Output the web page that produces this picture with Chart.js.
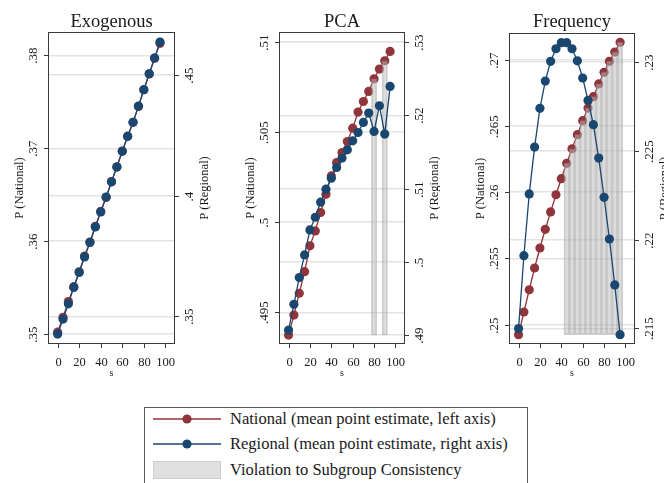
<!DOCTYPE html>
<html>
<head>
<meta charset="utf-8">
<script src="https://cdn.jsdelivr.net/npm/chart.js@4.4.1/dist/chart.umd.min.js"></script>
<style>
  html, body { margin: 0; padding: 0; background: #ffffff; }
  #page { position: relative; width: 664px; height: 483px; overflow: hidden; background: #fff; }
  .panel { position: absolute; top: 0; height: 400px; }
  #legend { position: absolute; left: 144px; top: 407px; width: 384px; height: 100px; border: 1px solid #5a5a5a; box-sizing: border-box; }
  .ltxt { position: absolute; left: 85px; font-family: 'Liberation Serif', 'DejaVu Serif', serif; font-size: 16.5px; color: #1a1a1a; line-height: 20px; white-space: nowrap; }
</style>
</head>
<body>
<div id="page">
  <canvas id="c1" class="panel" style="left:0px" width="220" height="400"></canvas>
  <canvas id="c2" class="panel" style="left:220px" width="220" height="400"></canvas>
  <canvas id="c3" class="panel" style="left:440px" width="224" height="400"></canvas>
  <div id="legend">
    <svg width="84" height="100" style="position:absolute;left:0;top:0">
      <line x1="8" y1="11" x2="76" y2="11" stroke="rgb(144,53,59)" stroke-width="1.5"/>
      <circle cx="42" cy="11" r="4.6" fill="rgb(144,53,59)"/>
      <line x1="8" y1="36" x2="76" y2="36" stroke="rgb(26,71,111)" stroke-width="1.5"/>
      <circle cx="42" cy="36" r="4.6" fill="rgb(26,71,111)"/>
      <rect x="8.5" y="53.5" width="67" height="17" fill="#e0e0e0" stroke="#cdcdcd" stroke-width="1"/>
    </svg>
    <div class="ltxt" id="lt1" style="top:1px"></div>
    <div class="ltxt" id="lt2" style="top:26px"></div>
    <div class="ltxt" id="lt3" style="top:52px"></div>
  </div>
</div>
<script>
// ---------------- DATA ----------------
const s = [0, 5, 10, 15, 20, 25, 30, 35, 40, 45, 50, 55, 60, 65, 70, 75, 80, 85, 90, 95];

const exoNational = [.3502, .3518, .3535, .3551, .3567, .3584, .3599, .3616, .3632, .3647, .3664, .3680, .3697, .3713, .3728, .3745, .3763, .3780, .3797, .3813];
const exoRegional = [.3427, .3489, .3552, .3620, .3682, .3746, .3806, .3870, .3932, .3994, .4057, .4118, .4183, .4245, .4303, .4370, .4438, .4504, .4569, .4635];

const pcaNational = [.49374, .49485, .49606, .49726, .49869, .49952, .50054, .50156, .50257, .50331, .50387, .50448, .50522, .50611, .50670, .50726, .50796, .50850, .50896, .50948];
const pcaRegional = [.49068, .49419, .49784, .50093, .50435, .50608, .50813, .50991, .51141, .51287, .51415, .51528, .51651, .51765, .51902, .52030, .51779, .52130, .51743, .52394];

const freqNational = [.24925, .25096, .25264, .25428, .25579, .25720, .25851, .25981, .26102, .26218, .26328, .26434, .26540, .26635, .26721, .26817, .26905, .26988, .27058, .27131];
const freqRegional = [.21499, .21910, .22258, .22522, .22740, .22894, .23005, .23076, .23110, .23110, .23076, .23008, .22911, .22785, .22648, .22460, .22239, .22004, .21745, .21465];

const exoViolations = [];
const pcaViolations = [80, 90];
const freqViolations = [45, 50, 55, 60, 65, 70, 75, 80, 85, 90, 95];

const xTicks = [0, 20, 40, 60, 80, 100];
const xTickLabels = ['0', '20', '40', '60', '80', '100'];

const exoLeftTicks = [.35, .36, .37, .38];
const exoLeftLabels = ['.35', '.36', '.37', '.38'];
const exoRightTicks = [.35, .4, .45];
const exoRightLabels = ['.35', '.4', '.45'];

const pcaLeftTicks = [.495, .5, .505, .51];
const pcaLeftLabels = ['.495', '.5', '.505', '.51'];
const pcaRightTicks = [.49, .5, .51, .52, .53];
const pcaRightLabels = ['.49', '.5', '.51', '.52', '.53'];

const freqLeftTicks = [.25, .255, .26, .265, .27];
const freqLeftLabels = ['.25', '.255', '.26', '.265', '.27'];
const freqRightTicks = [.215, .22, .225, .23];
const freqRightLabels = ['.215', '.22', '.225', '.23'];

const panelTitles = ['Exogenous', 'PCA', 'Frequency'];
const leftTitle = 'P (National)';
const rightTitle = 'P (Regional)';
const xTitle = 's';
const legendLabels = [
  'National (mean point estimate, left axis)',
  'Regional (mean point estimate, right axis)',
  'Violation to Subgroup Consistency'
];

// ---------------- STYLE ----------------
const RED = 'rgb(144,53,59)';
const BLUE = 'rgb(26,71,111)';
const SERIF = "'Liberation Serif', 'DejaVu Serif', serif";
const TXT = '#1a1a1a';

document.getElementById('lt1').textContent = legendLabels[0];
document.getElementById('lt2').textContent = legendLabels[1];
document.getElementById('lt3').textContent = legendLabels[2];

const stataAxes = {
  id: 'stataAxes',
  afterDraw(chart, args, o) {
    const { ctx, chartArea: a, scales } = chart;
    ctx.save();
    // plot region box
    ctx.strokeStyle = '#3a3a3a';
    ctx.lineWidth = 1;
    ctx.strokeRect(a.left - 0.5, a.top - 0.5, a.right - a.left + 1, a.bottom - a.top + 1);

    ctx.fillStyle = TXT;
    ctx.strokeStyle = '#3a3a3a';
    // left axis
    ctx.font = '13px ' + SERIF;
    ctx.textAlign = 'center';
    ctx.textBaseline = 'alphabetic';
    o.leftTicks.forEach((v, i) => {
      const y = Math.round(scales.yN.getPixelForValue(v)) + 0.5;
      ctx.beginPath(); ctx.moveTo(a.left - 5, y); ctx.lineTo(a.left, y); ctx.stroke();
      ctx.save(); ctx.translate(a.left - 12, y); ctx.rotate(-Math.PI / 2);
      ctx.fillText(o.leftLabels[i], 0, 0); ctx.restore();
    });
    // right axis
    o.rightTicks.forEach((v, i) => {
      const y = Math.round(scales.yR.getPixelForValue(v)) + 0.5;
      ctx.beginPath(); ctx.moveTo(a.right, y); ctx.lineTo(a.right + 5, y); ctx.stroke();
      ctx.save(); ctx.translate(a.right + 19, y); ctx.rotate(-Math.PI / 2);
      ctx.fillText(o.rightLabels[i], 0, 0); ctx.restore();
    });
    // x axis
    ctx.font = '12.5px ' + SERIF;
    xTicks.forEach((v, i) => {
      const x = Math.round(scales.x.getPixelForValue(v)) + 0.5;
      ctx.beginPath(); ctx.moveTo(x, a.bottom); ctx.lineTo(x, a.bottom + 5); ctx.stroke();
      ctx.fillText(xTickLabels[i], x, a.bottom + 22.5);
    });
    const midX = (a.left + a.right) / 2;
    const midY = (a.top + a.bottom) / 2;
    ctx.font = '10px ' + SERIF;
    ctx.fillText(xTitle, midX, a.bottom + 33);
    // axis titles
    ctx.font = '12.5px ' + SERIF;
    ctx.save(); ctx.translate(a.left - 26, midY); ctx.rotate(-Math.PI / 2);
    ctx.fillText(leftTitle, 0, 0); ctx.restore();
    ctx.save(); ctx.translate(a.right + 34, midY); ctx.rotate(-Math.PI / 2);
    ctx.fillText(rightTitle, 0, 0); ctx.restore();
    // panel title
    ctx.font = '18.5px ' + SERIF;
    ctx.fillText(o.title, midX, 27);
    ctx.restore();
  }
};

function makePanel(id, cfg) {
  const pts = (arr) => s.map((v, i) => ({ x: v, y: arr[i] }));
  const lo = Math.min(...cfg.national);
  const datasets = [
    { type: 'line', label: 'National', data: pts(cfg.national), yAxisID: 'yN', order: 3,
      borderColor: RED, backgroundColor: RED, borderWidth: 1.3, pointRadius: 4.6, pointBorderWidth: 0,
      pointBackgroundColor: RED, tension: 0, fill: false },
    { type: 'bar', label: 'Violation', yAxisID: 'yN', order: 2,
      data: s.map((v, i) => ({ x: v, y: cfg.viol.includes(v) ? [lo, cfg.national[i]] : null })),
      backgroundColor: 'rgba(185,185,185,0.5)', borderColor: 'rgba(150,150,150,0.45)', borderWidth: 1,
      borderSkipped: false, barPercentage: 1, categoryPercentage: 1, grouped: false },
    { type: 'line', label: 'Regional', data: pts(cfg.regional), yAxisID: 'yR', order: 1,
      borderColor: BLUE, backgroundColor: BLUE, borderWidth: 1.3, pointRadius: 4.6, pointBorderWidth: 0,
      pointBackgroundColor: BLUE, tension: 0, fill: false }
  ];
  const yAxis = (pos, min, max, ticks) => ({
    type: 'linear', position: pos, min, max,
    grid: { color: '#e4e4e4', lineWidth: 1.5, drawTicks: false },
    border: { display: false },
    ticks: { display: false },
    afterBuildTicks: (sc) => { sc.ticks = ticks.map(v => ({ value: v })); }
  });
  return new Chart(document.getElementById(id), {
    type: 'line',
    data: { datasets },
    options: {
      responsive: false, animation: false, devicePixelRatio: 1,
      layout: { padding: cfg.padding },
      plugins: { legend: { display: false }, tooltip: { enabled: false }, title: { display: false },
        stataAxes: { title: cfg.title, leftTicks: cfg.leftTicks, leftLabels: cfg.leftLabels,
          rightTicks: cfg.rightTicks, rightLabels: cfg.rightLabels } },
      scales: {
        x: { type: 'linear', min: -8, max: 108, offset: false,
             grid: { display: false, drawTicks: false }, border: { display: false }, ticks: { display: false } },
        yN: yAxis('left', cfg.nRange[0], cfg.nRange[1], cfg.leftTicks),
        yR: yAxis('right', cfg.rRange[0], cfg.rRange[1], cfg.rightTicks)
      }
    },
    plugins: [stataAxes]
  });
}

makePanel('c1', { title: panelTitles[0], national: exoNational, regional: exoRegional, viol: exoViolations,
  leftTicks: exoLeftTicks, leftLabels: exoLeftLabels, rightTicks: exoRightTicks, rightLabels: exoRightLabels,
  nRange: [.34903, .38241], rRange: [.3390, .46725],
  padding: { left: 49, right: 46, top: 33, bottom: 57 } });

makePanel('c2', { title: panelTitles[1], national: pcaNational, regional: pcaRegional, viol: pcaViolations,
  leftTicks: pcaLeftTicks, leftLabels: pcaLeftLabels, rightTicks: pcaRightTicks, rightLabels: pcaRightLabels,
  nRange: [.49330, .51050], rRange: [.48891, .53123],
  padding: { left: 60, right: 36, top: 33, bottom: 57 } });

makePanel('c3', { title: panelTitles[2], national: freqNational, regional: freqRegional, viol: freqViolations,
  leftTicks: freqLeftTicks, leftLabels: freqLeftLabels, rightTicks: freqRightTicks, rightLabels: freqRightLabels,
  nRange: [.24862, .27194], rRange: [.21418, .23159],
  padding: { left: 70, right: 30, top: 34, bottom: 57 } });
</script>
</body>
</html>
